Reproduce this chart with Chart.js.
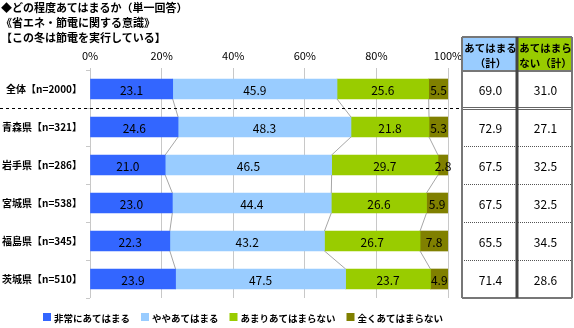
<!DOCTYPE html>
<html>
<head>
<meta charset="utf-8">
<script src="https://cdn.jsdelivr.net/npm/chart.js@4/dist/chart.umd.min.js"></script>
<style>
  html, body { margin: 0; padding: 0; background: #fff; }
  #wrap { position: relative; width: 574px; height: 328px; }
  #title { position: absolute; left: 1px; top: 0; font: bold 11px 'Noto Sans CJK JP', sans-serif; line-height: 15px; color: #000; }
</style>
</head>
<body>
<div id="wrap">
  <canvas id="chart" width="574" height="328"></canvas>
  <div id="title">◆どの程度あてはまるか（単一回答）<br>《省エネ・節電に関する意識》<br>【この冬は節電を実行している】</div>
</div>
<script>
// categories and values
const categories = ['全体【n=2000】', '青森県【n=321】', '岩手県【n=286】', '宮城県【n=538】', '福島県【n=345】', '茨城県【n=510】'];
const seriesNames = ['非常にあてはまる', 'ややあてはまる', 'あまりあてはまらない', '全くあてはまらない'];
const veryMuch = [23.1, 24.6, 21.0, 23.0, 22.3, 23.9];
const somewhat = [45.9, 48.3, 46.5, 44.4, 43.2, 47.5];
const notMuch = [25.6, 21.8, 29.7, 26.6, 26.7, 23.7];
const notAtAll = [5.5, 5.3, 2.8, 5.9, 7.8, 4.9];
const applyTotal = [69.0, 72.9, 67.5, 67.5, 65.5, 71.4];
const notApplyTotal = [31.0, 27.1, 32.5, 32.5, 34.5, 28.6];
const tableHeaders = [['あてはまる', '（計）'], ['あてはまら', 'ない（計）']];
const xTicks = [0, 20, 40, 60, 80, 100];

const colors = ['#3366ff', '#99ccff', '#99cc00', '#808000'];
const FONT = "'Noto Sans CJK JP', sans-serif";
Chart.defaults.font.family = FONT;
Chart.defaults.color = '#000';

// ─────────────────────────────────────────────
// value labels inside the bars + connector lines
// ─────────────────────────────────────────────
const barExtras = {
  id: 'barExtras',
  afterDatasetsDraw(chart) {
    const ctx = chart.ctx;
    const metas = [0, 1, 2, 3].map(d => chart.getDatasetMeta(d));

    // grey lines joining the segment boundaries of neighbouring bars
    ctx.save();
    ctx.strokeStyle = '#a6a6a6';
    ctx.lineWidth = 1;
    for (let k = 0; k < 3; k++) {
      const els = metas[k].data;
      for (let i = 0; i < els.length - 1; i++) {
        const a = els[i], b = els[i + 1];
        ctx.beginPath();
        ctx.moveTo(a.x, a.y + a.height / 2);
        ctx.lineTo(b.x, b.y - b.height / 2);
        ctx.stroke();
      }
    }
    ctx.restore();

    // numbers in the middle of every segment
    ctx.save();
    ctx.font = '12px ' + FONT;
    ctx.fillStyle = '#000';
    ctx.textAlign = 'center';
    ctx.textBaseline = 'middle';
    metas.forEach((meta, d) => {
      meta.data.forEach((el, i) => {
        const v = chart.data.datasets[d].data[i];
        ctx.fillText(v.toFixed(1), (el.x + el.base) / 2, el.y + 1);
      });
    });
    ctx.restore();
  },
  afterDraw(chart) {
    const ctx = chart.ctx;
    const y = chart.scales.y;
    const top = chart.chartArea.top;
    const bottom = chart.chartArea.bottom;
    const xL = 462, xM = 517, xR = 572, hTop = 37;

    // dashed separator between 全体 and the prefectures
    const sepY = Math.round(y.getPixelForValue(0.5)) + 0.5;
    ctx.save();
    ctx.strokeStyle = '#000';
    ctx.lineWidth = 1;
    ctx.setLineDash([3, 3]);
    ctx.beginPath();
    ctx.moveTo(0, sepY);
    ctx.lineTo(xL, sepY);
    ctx.stroke();
    ctx.restore();

    // summary table header
    ctx.save();
    ctx.fillStyle = '#99ccff';
    ctx.fillRect(xL, hTop, xM - xL, top - hTop + 1);
    ctx.fillStyle = '#99cc00';
    ctx.fillRect(xM, hTop, xR - xM, top - hTop + 1);
    ctx.fillStyle = '#000';
    ctx.font = 'bold 10.5px ' + FONT;
    ctx.textAlign = 'center';
    ctx.textBaseline = 'middle';
    [[xL, xM], [xM, xR]].forEach(([a, b], c) => {
      ctx.fillText(tableHeaders[c][0], (a + b) / 2 + 1, hTop + 11);
      ctx.fillText(tableHeaders[c][1], (a + b) / 2 + 1, hTop + 26);
    });

    // table values
    ctx.font = '12px ' + FONT;
    categories.forEach((_, i) => {
      const cy = y.getPixelForValue(i) + 1;
      ctx.fillText(applyTotal[i].toFixed(1), (xL + xM) / 2 + 1, cy);
      ctx.fillText(notApplyTotal[i].toFixed(1), (xM + xR) / 2 + 1, cy);
    });

    // row lines
    ctx.strokeStyle = '#555';
    ctx.lineWidth = 1;
    for (let i = 1; i < categories.length - 1; i++) {
      const ly = Math.round(y.getPixelForValue(i + 0.5)) + 0.5;
      ctx.setLineDash([1, 1]);
      ctx.beginPath();
      ctx.moveTo(xL, ly);
      ctx.lineTo(xR, ly);
      ctx.stroke();
    }
    ctx.setLineDash([]);
    ctx.strokeStyle = '#666';
    ctx.beginPath();
    ctx.moveTo(xL, sepY - 1); ctx.lineTo(xR, sepY - 1);
    ctx.moveTo(xL, sepY + 1); ctx.lineTo(xR, sepY + 1);
    ctx.stroke();
    ctx.lineWidth = 2;
    ctx.strokeStyle = '#777';
    ctx.beginPath();
    ctx.moveTo(xL, hTop); ctx.lineTo(xR, hTop);
    ctx.moveTo(xL, top + 1); ctx.lineTo(xR, top + 1);
    ctx.moveTo(xL, bottom); ctx.lineTo(xR, bottom);
    ctx.moveTo(xL, hTop); ctx.lineTo(xL, bottom);
    ctx.moveTo(xR, hTop); ctx.lineTo(xR, bottom);
    ctx.stroke();
    ctx.lineWidth = 3;
    ctx.strokeStyle = '#444';
    ctx.beginPath();
    ctx.moveTo(xM, hTop); ctx.lineTo(xM, bottom);
    ctx.stroke();

    // legend row under the chart
    ctx.font = 'bold 9.5px ' + FONT;
    ctx.textAlign = 'left';
    let lx = 43;
    const ly = 317;
    chart.data.datasets.forEach(ds => {
      ctx.fillStyle = ds.backgroundColor;
      ctx.fillRect(lx, ly - 4, 8, 8);
      ctx.fillStyle = '#000';
      ctx.fillText(ds.label, lx + 11, ly + 1);
      lx += 11 + ctx.measureText(ds.label).width + 11;
    });
    ctx.restore();
  }
};

const seriesData = [veryMuch, somewhat, notMuch, notAtAll];

new Chart(document.getElementById('chart'), {
  type: 'bar',
  data: {
    labels: categories,
    datasets: seriesData.map((vals, d) => ({
      label: seriesNames[d],
      data: vals,
      backgroundColor: colors[d],
      borderWidth: 0,
      barThickness: 20
    }))
  },
  options: {
    indexAxis: 'y',
    responsive: false,
    animation: false,
    layout: { padding: { left: 0, right: 126, top: 0, bottom: 30 } },
    plugins: {
      legend: { display: false },
      tooltip: { enabled: false }
    },
    scales: {
      x: {
        position: 'top',
        stacked: true,
        min: 0,
        max: 100,
        afterBuildTicks(scale) { scale.ticks = xTicks.map(v => ({ value: v })); },
        afterFit(scale) { scale.height = 70; },
        ticks: {
          callback: v => v + '%',
          font: { size: 11 },
          color: '#000',
          padding: 6
        },
        grid: { color: '#c8c8c8', tickLength: 2 },
        border: { display: false }
      },
      y: {
        stacked: true,
        afterFit(scale) { scale.width = 90; },
        ticks: {
          font: { size: 10, weight: 'bold' },
          color: '#000',
          padding: 4
        },
        grid: { offset: true, drawOnChartArea: false, tickLength: 4, color: '#c8c8c8' },
        border: { display: false }
      }
    }
  },
  plugins: [barExtras]
});
</script>
</body>
</html>
